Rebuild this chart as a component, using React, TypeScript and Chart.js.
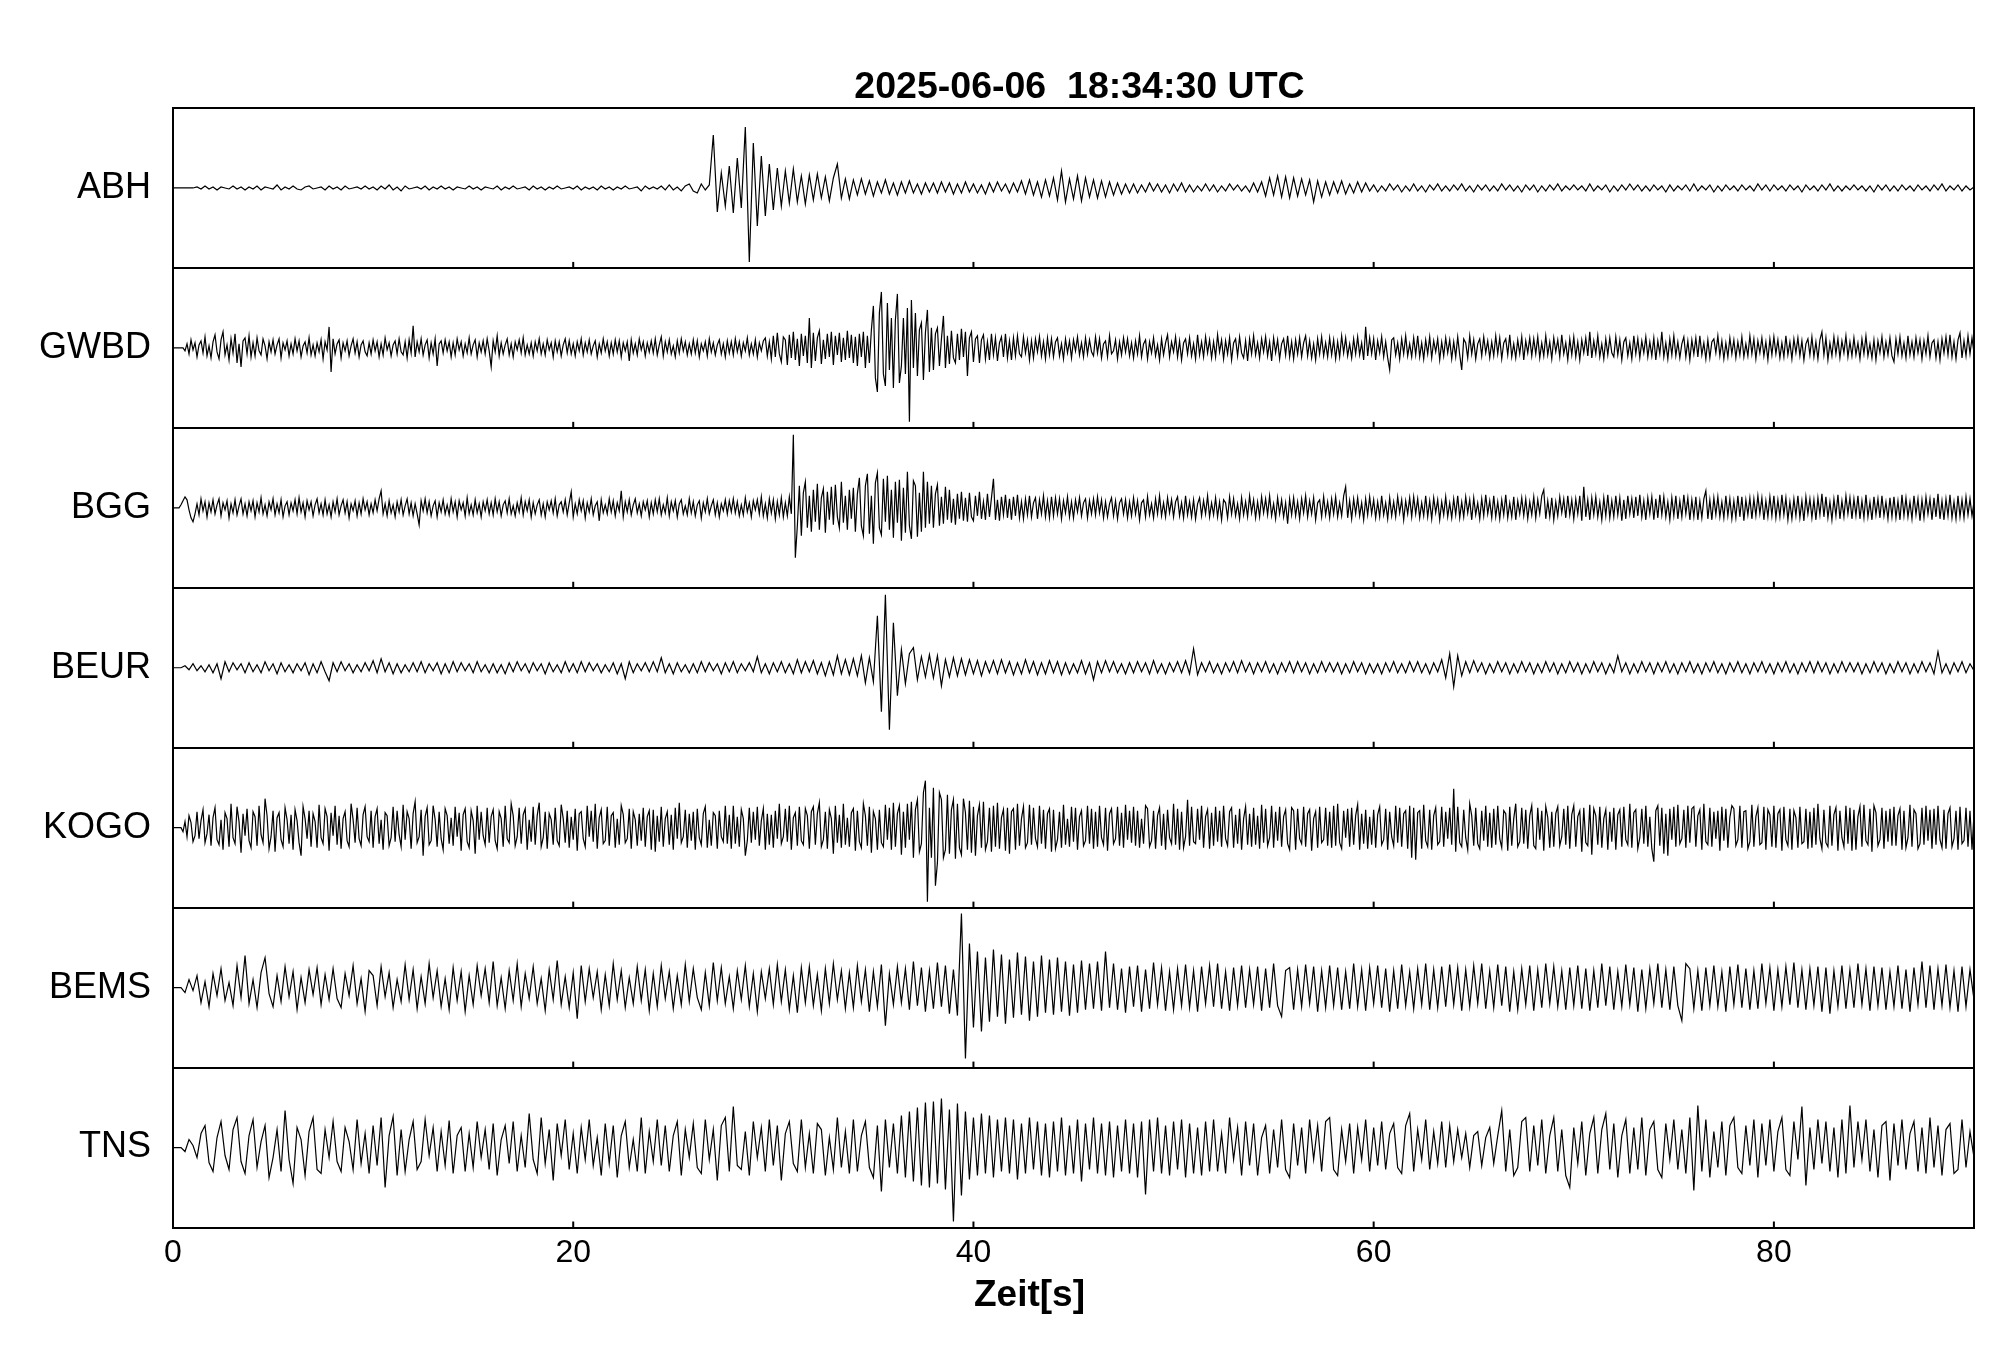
import React, { useEffect, useRef } from "react";
import { Chart, registerables } from "chart.js";

Chart.register(...registerables);

const TITLE = "2025-06-06  18:34:30 UTC";
const X_LABEL = "Zeit[s]";
const STATIONS = ["ABH", "GWBD", "BGG", "BEUR", "KOGO", "BEMS", "TNS"];
const X_TICKS = [0, 20, 40, 60, 80];
const X_MIN = 0;
const X_MAX = 90;
// seconds between samples of each trace (same order as STATIONS)
const SAMPLE_INTERVALS = [0.2, 0.1, 0.1, 0.2, 0.1, 0.2, 0.2];
const PANEL_UNITS = 160; // amplitude units spanning one panel

const ABH = [
  0,0,0,0,0,0,1,-1,2,-1,
  1,-2,1,0,-1,2,-1,1,-2,1,
  -1,2,-2,1,0,-1,3,-2,1,-1,
  2,-1,-2,1,2,-1,0,1,-2,2,
  -1,1,-2,2,-1,0,1,-1,2,-1,
  1,-2,2,-1,3,-2,1,-3,2,-1,
  0,1,-1,2,-2,1,-1,2,-1,1,
  -2,1,0,-1,2,-1,1,-2,1,0,
  -1,2,-2,1,-1,2,-1,0,1,-2,
  2,-1,1,-2,1,-1,2,-1,0,1,
  -1,2,-2,1,-1,1,-2,2,-1,1,
  -2,1,-1,2,-1,0,1,-3,2,-1,
  1,-1,2,-2,3,-2,1,-3,2,4,
  -3,-5,4,-2,3,53,-24,15,-18,22,
  -25,30,-20,61,-74,45,-38,32,-28,24,
  -22,20,-18,17,-15,19,-14,12,-16,13,
  -12,14,-10,11,-13,10,24,-10,9,-11,
  8,-7,9,-6,7,-8,6,-5,8,-6,
  5,-7,6,-5,7,-5,4,-6,5,-4,
  5,-5,6,-4,5,-6,4,-5,6,-4,
  4,-5,3,-6,5,-4,6,-3,4,-5,
  5,-4,7,-6,8,-7,6,-9,8,-8,
  10,-12,17,-14,9,-11,12,-13,10,-9,
  8,-10,7,-9,6,-7,5,-6,4,-5,
  4,-5,3,-4,5,-3,4,-4,3,-5,
  4,-3,5,-4,3,-4,2,-3,4,-3,
  3,-4,2,-3,4,-2,3,-3,2,-4,
  5,-4,6,-8,10,-7,12,-9,11,-10,
  10,-8,9,-7,8,-14,7,-9,6,-7,
  6,-5,7,-6,4,-5,6,-4,5,-3,
  3,-4,2,-3,4,-2,3,-4,2,-3,
  4,-3,2,-4,3,-2,4,-3,2,-3,
  3,-2,4,-3,2,-4,3,-2,3,-3,
  2,-3,4,-2,3,-3,2,-4,3,-2,
  3,-4,2,-3,3,-2,4,-3,2,-2,
  3,-2,2,-3,4,-3,2,-2,3,-4,
  2,-3,3,-2,4,-2,3,-3,2,-3,
  3,-2,2,-4,3,-3,2,-2,3,-3,
  4,-3,2,-2,3,-4,2,-3,3,-2,
  2,-3,3,-2,2,-3,4,-2,3,-3,
  3,-2,2,-3,3,-2,2,-4,3,-2,
  2,-3,3,-2,4,-3,2,-3,2,-2,
  3,-2,2,-3,2,-4,3,-2,3,-3,
  2,-3,3,-2,2,-3,3,-2,2,-3,
  3,-2,4,-3,2,-2,3,-3,2,-2,
  1,
];

const GWBD = [
  0,0,0,0,0,0,-3,4,-6,8,-2,5,-9,3,7,-5,11,-8,2,-10,
  6,13,-4,-11,8,16,-7,3,-12,9,-5,14,-15,4,-19,7,10,-6,12,-9,
  5,-8,10,-3,-7,9,2,-11,6,-4,8,-6,3,9,-10,5,-2,7,-8,4,
  -6,9,-3,7,-9,2,6,-5,10,-7,3,-8,5,-4,8,-11,6,-2,21,-24,
  9,-6,4,8,-10,5,-3,7,-8,2,9,-5,6,-9,3,7,-4,-8,5,-6,
  8,-3,6,-9,4,-7,10,-2,5,-8,3,7,-6,9,-4,-7,6,-10,8,-5,
  22,-9,6,-4,9,-7,3,8,-10,5,-6,9,-18,4,7,-5,8,-3,6,-9,
  5,-7,9,-2,6,-8,4,-5,10,-6,3,8,-9,5,-4,7,-6,9,-3,-19,
  7,-4,12,-8,5,-6,3,9,-7,4,-9,6,-2,8,-5,10,-7,3,-6,5,
  -8,6,-3,9,-6,4,-7,8,-2,5,-9,7,-4,6,-8,3,9,-5,7,-6,
  4,-8,6,-3,9,-7,5,-4,8,-6,2,7,-9,4,-5,9,-3,6,-8,5,
  -6,8,-4,7,-9,5,-3,6,-13,8,-5,4,-7,9,-2,6,-8,5,-4,7,
  -5,9,-7,3,11,-8,6,-4,8,-6,2,-9,7,-5,9,-3,6,-7,4,-6,
  8,-5,7,-9,4,-3,6,-8,9,-4,5,-7,3,8,-6,4,-9,7,-5,6,
  -7,9,-4,6,-8,5,-3,10,-7,4,-6,8,-9,5,-3,7,10,-8,6,-11,
  12,-9,15,-6,-14,11,8,-17,13,-10,16,-12,9,-18,14,-8,12,-15,30,-20,
  15,-13,10,17,-16,8,-11,14,-9,16,-17,12,-7,15,-14,10,-12,17,-10,13,
  -15,11,-18,14,-9,16,-20,12,-15,18,42,-30,-44,35,56,-26,-38,45,-22,30,
  -40,28,54,-35,-18,30,-26,40,-74,48,-20,35,-28,18,25,-32,15,38,-24,20,
  -22,14,20,-18,9,32,-20,12,-16,17,-10,-15,14,-12,19,-9,16,-28,10,16,
  -14,9,12,-15,8,13,-11,6,-12,14,-7,10,-13,5,11,-9,14,-10,7,-12,
  10,-8,12,-6,-9,11,-5,8,-12,7,-10,9,-4,11,-8,6,-11,10,-7,9,
  -9,6,10,-8,4,-11,9,-5,7,-10,8,-3,11,-7,5,-9,10,-6,8,-4,
  -8,11,-5,9,-10,4,7,-9,12,-6,-3,8,-11,6,-7,10,-4,9,-8,5,
  -10,7,-6,12,-9,4,8,-11,6,-5,10,-8,3,-12,9,-7,5,13,-9,6,
  -4,11,-9,7,-12,5,9,-6,10,-8,4,-11,13,-7,6,-9,11,-5,8,-10,
  6,-9,13,-4,8,-11,7,-6,10,-12,5,9,-8,11,-5,-10,7,-13,9,-6,
  12,-7,5,-10,9,-4,11,-8,6,-13,10,-5,8,-11,4,9,-7,12,-9,6,
  -11,8,-6,10,-9,5,12,-8,7,-10,4,-12,9,-6,11,-8,5,-9,10,-7,
  8,-11,6,-9,12,-5,10,-8,4,-10,9,-6,11,-7,5,-12,21,-8,10,-6,
  9,-12,7,-5,11,-9,6,-10,-22,8,10,-7,5,-11,9,-6,12,-8,4,-9,
  10,-7,12,-9,5,-11,8,-6,11,-10,7,-4,9,-12,6,-8,10,-5,8,-11,
  6,-9,11,-7,-22,9,5,-10,12,-6,8,-11,4,9,-8,11,-5,7,-10,6,
  -8,12,-6,10,-11,5,9,-7,13,-9,4,-10,8,-6,11,-12,7,-5,10,-8,
  9,-6,11,-10,5,-8,12,-7,6,-11,10,-4,8,-9,13,-6,5,-12,9,-7,
  11,-9,6,-12,8,-5,10,-8,16,-10,7,-6,12,-9,4,-11,9,-7,10,-5,
  -9,11,-7,8,-12,6,10,-8,5,-11,12,-6,9,-10,7,-5,11,-9,6,-8,
  10,-12,7,-6,16,-9,5,-11,9,-7,12,-8,6,-10,4,11,-9,7,-12,8,
  -6,10,-9,12,-7,5,-11,8,-10,6,9,-5,12,-8,7,-11,5,-9,10,-6,
  8,-10,6,-7,11,-9,4,-8,12,-6,9,-11,7,-5,10,-8,6,-12,9,-7,
  11,-6,8,-10,5,-9,12,-7,6,-11,9,-5,10,-8,7,-12,4,9,-7,11,
  -9,6,-11,8,16,-7,10,-12,5,-8,11,-6,9,-10,7,-5,12,-9,6,-8,
  10,-7,5,-11,9,-6,12,-8,4,-10,8,-12,7,-5,11,-9,6,-7,10,-8,
  -14,9,-6,11,-8,5,-10,12,-7,6,-9,10,-5,8,-11,7,-6,12,-9,5,
  8,-10,6,-12,9,-5,11,-7,13,-9,6,-11,8,15,-10,7,-8,12,-6,10,
  -5,
];

const BGG = [
  0,0,0,0,3,7,11,8,-2,-10,-14,-6,4,-7,9,-3,6,-9,5,-4,
  8,-6,3,9,-8,5,-2,7,-10,4,-5,8,-7,2,9,-6,4,-8,6,-3,
  7,-9,5,-4,10,-6,3,-8,6,-2,9,-7,4,-5,8,-9,2,6,-7,5,
  -3,8,-6,10,-4,5,-9,7,-2,6,-8,3,9,-5,4,-7,8,-6,3,-9,
  6,-4,9,-7,2,8,-5,6,-10,4,-3,7,-8,5,-6,9,-2,6,-7,4,
  -5,8,-3,9,17,-6,4,-8,7,-5,3,-9,6,-4,8,-7,2,9,-6,5,
  -8,4,-6,-17,7,-3,9,-5,6,-8,2,7,-9,5,-4,8,-6,3,-7,9,
  -4,6,-9,7,-2,5,-8,10,-6,3,-7,8,-5,4,-9,6,-3,8,-6,5,
  -7,9,-4,6,-8,3,7,-5,9,-6,2,-8,5,-4,10,-7,6,-3,8,-9,
  5,-6,3,8,-7,4,-9,6,-2,7,-5,9,-8,3,6,-4,8,-7,5,16,
  -9,4,-6,8,-3,7,-10,5,-4,9,-7,2,6,-13,8,-5,3,-6,9,-4,
  7,-8,5,-3,17,-9,6,-4,8,-7,3,9,-5,4,-8,6,-2,7,-9,5,
  -6,8,-4,9,-7,3,-5,10,-8,6,-3,7,-9,4,8,-6,2,-7,9,-5,
  6,-8,3,7,-10,5,-4,9,-6,2,8,-7,5,-9,4,-3,8,-6,7,-4,
  9,-5,6,-8,3,-7,10,-4,5,-9,7,-2,8,-6,11,-8,4,-10,9,-5,
  8,-11,6,-7,10,-9,5,-8,11,-6,73,-50,-18,22,-28,15,26,-20,12,-24,
  18,-14,24,-22,10,19,-25,16,-12,21,-17,23,-9,-20,26,-15,12,-22,18,-11,
  20,-24,14,30,-18,-28,22,34,-26,12,-36,25,35,-20,-27,29,-14,32,-22,18,
  -30,26,-15,28,-33,20,-25,36,-18,-31,27,22,-29,15,-24,36,-20,26,-16,22,
  -20,14,23,-18,11,-16,21,-12,18,-15,9,-17,14,-11,16,-13,10,-14,15,-9,
  -13,12,-8,16,-11,6,-12,14,-9,10,29,-12,8,-13,11,-7,13,-10,9,-12,
  11,-8,13,-10,6,-11,9,-7,12,-9,5,10,-11,8,-6,12,-9,7,-10,11,
  -8,10,-6,9,-11,7,-5,11,-9,6,-10,8,-4,10,-8,5,9,-10,7,-6,
  9,-7,11,-5,8,-10,6,-9,4,10,-8,7,-11,5,9,-6,8,-10,6,-8,
  10,-6,7,-12,5,8,-9,11,-7,4,-10,9,-6,12,-8,5,-9,10,-5,8,
  -9,6,11,-8,5,-10,12,-7,6,-9,8,-11,4,10,-8,7,-6,12,-9,5,
  -7,10,-9,6,-12,8,5,-10,11,-6,9,-8,4,-11,10,-7,6,-9,12,-5,
  8,-10,6,-9,11,-5,9,-7,12,-8,4,-11,10,-6,8,-9,5,-16,9,-7,
  10,-8,6,-11,9,-5,12,-9,7,-6,10,-12,5,8,-9,11,-7,6,-10,9,
  -6,11,-9,5,-8,12,21,-10,7,-11,9,-6,10,-8,5,-12,9,-7,11,-6,
  8,-10,6,-9,12,-7,5,-11,10,-8,6,-9,11,-5,8,-12,7,-6,10,-9,
  11,-6,9,-10,5,-8,12,-9,7,-11,10,-5,8,-12,6,-7,11,-9,5,-10,
  9,-7,12,-10,6,-9,11,-5,8,-12,10,-7,5,-11,9,-8,13,-6,7,-10,
  12,-9,6,-11,8,-7,13,-10,5,-9,11,-12,7,-6,10,-8,9,-11,6,-7,
  11,-10,8,-6,12,18,-11,7,-9,10,-12,6,-8,11,-5,9,-10,12,-7,8,
  -11,9,-6,12,-13,21,-9,8,-12,10,-7,11,-9,6,-12,10,-8,13,-10,7,
  -9,12,-7,10,-13,8,-11,12,-6,9,-10,11,-8,13,-9,7,-12,10,-6,11,
  -12,9,-10,13,-7,11,-9,6,-12,10,-8,12,-11,7,-9,13,-6,10,-12,8,
  -9,11,-12,7,-10,9,17,-11,8,-12,10,-7,11,-9,6,-10,12,-8,9,-11,
  7,-10,12,-9,11,-13,8,-7,10,-11,9,-8,12,-6,10,-12,7,-9,11,-8,
  12,-10,8,-9,13,-7,10,-12,6,-11,9,-8,12,-10,7,-13,11,-6,9,-10,
  8,-12,10,-7,14,-9,11,-10,6,-12,9,-8,13,-11,7,-9,12,-6,10,-11,
  9,-8,12,-11,7,-10,13,-9,6,-12,11,-7,9,-10,12,-8,6,-11,10,-9,
  11,-10,7,-12,13,-8,10,-9,6,-11,12,-7,9,-13,8,-10,11,-6,9,-12,
  10,-9,14,-11,7,-12,9,-8,13,-10,6,-11,12,-9,8,-10,11,-7,9,-8,
  6,
];

const BEUR = [
  0,0,0,2,-2,4,-3,2,-4,3,
  -5,4,-11,6,-4,5,-2,4,-5,5,
  -4,3,-5,6,-3,4,-6,5,-4,3,
  -5,4,-3,5,-7,4,-5,6,-4,-13,
  5,-4,6,-3,4,-5,3,-4,5,-3,
  7,-5,9,-4,5,-6,4,-5,3,-4,
  5,-4,6,-5,4,-3,5,-6,4,-5,
  6,-4,5,-3,4,-5,6,-4,3,-5,
  4,-5,3,-6,5,-4,6,-3,4,-5,
  5,-3,4,-6,5,-4,3,-5,6,-4,
  4,-5,6,-4,5,-3,4,-5,3,-4,
  5,-6,4,-11,6,-5,4,-3,5,-4,
  6,-4,10,-5,4,-6,5,-4,3,-5,
  4,-5,6,-4,5,-3,4,-6,5,-4,
  6,-5,4,-3,5,-4,11,-5,4,-6,
  5,-4,6,-5,4,-6,8,-5,6,-4,
  7,-6,5,-8,6,-7,12,-6,8,-7,
  9,-8,12,-15,10,-14,52,-44,73,-62,
  45,-28,18,-16,14,20,-12,11,-9,13,
  -10,12,-18,8,-9,10,-8,9,-7,8,
  -6,7,-8,6,-5,7,-6,8,-5,6,
  -7,5,-6,8,-5,6,-7,5,-6,7,
  -5,6,-7,5,-6,4,-5,7,-6,5,
  -12,6,-5,7,-4,6,-5,4,-6,5,
  -5,6,-4,5,-6,7,-5,4,-6,5,
  -4,6,-5,7,-6,19,-7,5,-4,6,
  -5,4,-6,5,-4,6,-5,7,-4,5,
  -6,5,-4,6,-5,4,-6,5,-4,6,
  -5,6,-4,5,-6,4,-5,6,-4,5,
  -4,5,-6,4,-5,6,-4,5,-6,4,
  -5,4,-6,5,-4,6,-5,4,-5,6,
  -4,6,-5,4,-6,5,-4,8,-10,14,
  -19,12,-8,6,-5,7,-4,5,-6,4,
  -5,6,-4,5,-6,4,-5,6,-4,5,
  -6,4,-5,6,-4,5,-6,4,-5,6,
  -4,5,-6,4,-5,6,-4,5,-6,4,
  -5,12,-4,5,-6,4,-5,6,-4,5,
  -6,5,-4,6,-5,4,-6,5,-4,6,
  -5,4,-6,5,-4,6,-5,4,-6,5,
  -4,6,-5,4,-6,5,-4,6,-5,4,
  -6,5,-4,6,-5,4,-6,5,-4,6,
  -5,6,-4,5,-6,4,-5,6,-4,5,
  -4,5,-6,4,-5,6,-4,5,-6,4,
  -5,6,-4,5,-6,4,-5,6,-4,5,
  -6,16,-5,4,-6,5,-4,6,-5,4,
  -3,
];

const KOGO = [
  0,0,0,0,0,-4,6,-9,12,5,-14,-8,16,-11,7,18,-15,-6,13,-18,
  10,20,-12,-17,8,-22,15,9,-19,24,-10,-16,21,6,-25,14,-8,19,-13,-20,
  16,11,-18,22,-7,-15,29,12,-21,-9,17,-24,10,15,-12,-19,20,8,-16,13,
  -22,18,7,-15,-28,21,9,-11,17,-19,14,6,-20,23,-10,-16,19,11,-23,15,
  -8,22,-17,12,-21,9,16,-13,-19,24,8,-15,20,-11,-18,13,21,-9,-14,17,
  -20,11,19,-16,8,-22,15,12,-18,-10,21,-14,17,-7,-19,23,-12,16,9,-21,
  14,26,-15,-9,18,-28,11,20,-17,-13,22,8,-19,16,-11,-22,19,12,-16,10,
  -18,21,-9,15,-23,13,19,-14,-20,17,7,-26,22,-12,16,-8,-17,20,-15,11,
  18,-13,-21,16,9,-19,22,-11,-15,24,12,-18,-9,20,-16,13,19,-22,8,-14,
  21,-17,12,25,-19,-10,16,-21,14,8,-17,20,-13,-18,23,9,-15,17,-20,11,
  -12,19,-23,14,16,-11,-19,22,-9,17,-14,24,-21,10,18,-16,-13,21,-18,12,
  15,-20,9,-17,22,13,-15,-11,19,-21,16,8,-18,14,-13,20,-19,11,17,-22,
  18,-24,12,-14,21,-19,9,16,-17,13,-22,20,-11,25,-15,-9,18,-20,14,-13,
  16,-22,19,-10,-17,14,21,-20,8,-18,15,12,-21,17,-9,-14,22,-16,13,-21,
  22,-16,11,-19,18,9,-28,-13,20,-15,16,-12,21,-18,7,19,-22,14,-17,13,
  -20,17,-11,24,-16,-9,19,-14,22,-22,10,15,-18,21,-13,-17,19,12,-21,16,
  21,-17,14,25,-19,-12,16,-21,18,9,-26,22,-15,13,-20,24,-17,10,-19,15,
  19,-23,17,-14,-20,24,12,-18,21,-25,16,9,-22,18,-15,-19,23,-12,20,-22,
  25,-19,14,22,-27,16,-20,24,-12,26,-30,18,28,-24,-16,35,47,-74,20,-30,
  40,-58,-35,35,28,-30,-22,33,-26,18,28,-31,24,-20,-27,29,15,-22,27,-25,
  21,-28,12,23,-20,26,-22,-14,20,-24,22,-19,25,-21,10,18,-23,20,-26,16,
  19,-22,24,-18,9,21,-20,-15,23,-17,20,-11,-19,22,-16,18,-21,14,19,-24,
  18,-21,-12,16,-20,23,-17,9,-19,21,-14,20,-22,11,17,-18,-13,22,-16,19,
  -21,16,-19,22,-10,-17,20,-23,14,19,-16,-11,21,-18,15,-20,23,-12,17,-15,
  21,-18,17,-20,9,-16,22,19,-19,-13,17,-21,12,20,-18,14,-22,18,-10,-16,
  24,-17,19,-22,16,-20,-9,28,-18,21,-14,-16,19,-12,22,-20,11,18,-21,15,
  -18,21,-14,17,-19,22,-11,-18,16,20,-20,13,-16,19,-22,9,21,-17,14,-19,
  20,-17,12,-21,23,-15,19,-18,-10,22,-20,16,-13,21,-19,11,18,-16,-22,20,
  17,-22,19,-11,-16,21,-19,14,18,-23,9,16,-20,21,-15,-12,20,-18,16,-20,
  22,-18,24,-15,-21,17,-10,19,-19,20,-17,12,23,-22,14,-16,18,-21,11,-17,
  18,-20,13,21,-17,-12,19,-22,16,-9,-18,22,-15,20,-19,14,17,-21,22,-30,
  20,-32,15,17,-21,23,-13,-19,18,-22,12,20,-17,-14,21,-19,16,-11,20,-17,
  39,-24,21,-15,-19,18,-10,-22,24,12,-18,20,-16,-21,17,-13,22,-19,15,-20,
  19,-17,22,-11,-20,17,14,-23,21,-18,9,24,-19,-14,20,-16,18,-21,12,22,
  -18,-21,20,-12,17,-23,21,10,-20,16,-19,14,21,-18,-9,19,-17,22,-21,13,
  22,-19,11,17,-24,20,-15,-18,23,-27,19,12,-17,21,-20,9,18,-22,16,-14,
  20,-22,13,18,-19,21,-12,-17,24,-20,15,18,-21,-10,19,-16,22,-19,11,-21,
  -34,17,22,-18,20,-26,14,-28,19,-12,21,-19,23,-16,-11,18,-20,22,-15,19,
  21,-19,12,18,-22,24,-14,-17,20,-19,16,-11,17,-23,21,-13,19,-20,10,22,
  19,-18,-12,22,-20,16,17,-21,-14,23,-19,11,20,-17,-15,21,-22,18,13,-19,
  22,-20,14,18,-23,21,-12,-18,19,-22,17,10,-20,21,-16,-14,19,-21,16,-20,
  20,-17,24,-11,-21,18,-15,-19,22,-18,13,20,-23,17,-10,-19,22,-16,20,-23,
  18,-22,11,21,-19,23,-13,-17,19,-24,22,15,-18,-12,20,-21,17,-14,19,-18,
  21,-18,12,19,-22,17,-20,-10,23,-19,18,14,-21,-16,20,-17,22,-13,18,-21,
  19,-17,22,-12,-20,18,-21,14,20,-19,-11,17,-22,21,-16,-13,20,-19,17,-22,
  14,
];

const BEMS = [
  0,0,0,-5,8,-3,12,-15,6,-19,
  14,-8,19,-13,5,-18,22,-10,32,-16,
  8,-20,15,30,-6,-19,12,-14,21,-9,
  16,-22,10,-15,18,-7,20,-17,13,-12,
  19,-11,-20,14,-8,22,-16,9,-24,17,
  12,-18,21,-9,15,-20,8,-14,23,-12,
  18,-21,11,-16,24,-10,17,-19,9,-22,
  20,-13,16,-24,12,-17,22,-8,19,-15,
  26,-18,10,-21,17,-13,24,-19,14,-11,
  21,-16,9,-23,18,-12,27,-17,11,-20,
  15,-31,22,-14,19,-10,16,-22,13,-18,
  24,-12,17,-20,10,-16,21,-13,18,-23,
  14,-19,22,-11,16,-21,12,-17,23,-14,
  19,-10,-22,15,-18,25,-13,20,-16,11,
  -21,17,-12,22,-19,14,-24,16,-11,19,
  -17,23,-14,18,-22,12,-25,20,-15,21,
  -18,13,-23,19,-16,24,-12,17,-21,15,
  -20,22,-14,18,-24,16,-19,23,-38,14,
  -17,21,-15,19,-22,26,-18,20,-24,17,
  -21,25,-19,22,-26,18,-28,74,-71,44,
  -40,36,-44,30,-34,38,-29,33,-36,28,
  -30,35,-27,31,-33,26,-29,32,-25,28,
  -27,30,-24,26,-28,23,-25,27,-22,24,
  -21,26,-23,36,-20,24,-22,19,-25,21,
  -19,22,-24,18,-21,25,-17,20,-23,16,
  -22,19,-18,23,-20,17,-24,21,-16,22,
  -19,24,-21,16,-23,20,-18,22,-20,18,
  -17,21,-23,19,-20,24,-18,-29,17,20,
  -22,18,-19,23,-16,21,-24,17,-20,22,
  -18,20,-22,16,-21,24,-19,18,-23,20,
  -16,22,-20,19,-24,17,-21,23,-18,16,
  -21,19,-17,24,-22,18,-20,21,-19,23,
  -17,20,-23,18,-19,22,-16,24,-21,17,
  -20,23,-18,21,-24,16,-22,19,-17,22,
  -23,18,-20,24,-16,21,-19,17,-22,20,
  -18,22,-21,19,-23,17,-20,24,-18,21,
  -22,16,-19,23,-17,20,-24,18,-21,19,
  -16,24,-20,18,-22,21,-18,-33,24,19,
  -21,17,-23,20,-18,22,-19,16,-24,21,
  -17,23,-20,19,-22,17,-21,24,-16,20,
  -23,18,-19,21,-17,25,-20,18,-22,19,
  -18,21,-24,20,-26,17,-19,22,-21,18,
  -20,24,-17,19,-23,21,-18,20,-22,16,
  -19,22,-21,18,-24,20,-17,26,-20,22,
  -22,19,-18,23,-20,17,-24,21,-19,18,
  -12,
];

const TNS = [
  0,0,0,-4,8,2,-10,14,22,-15,
  -24,10,26,-8,-22,18,30,-14,-26,12,
  28,-20,6,22,-30,-10,18,-24,37,-12,
  -36,20,8,-28,16,30,-22,-26,18,-10,
  26,-14,-24,20,6,-22,28,-16,14,-26,
  22,-18,30,-40,12,31,-28,18,-24,8,
  26,-22,-14,28,-8,20,-24,16,-18,27,
  -26,12,20,-24,14,-20,26,-10,18,-22,
  24,-28,8,22,-16,26,-24,12,-20,34,
  -12,-26,30,-16,18,-33,24,-8,28,-22,
  14,-26,20,-12,28,-18,10,-28,24,-16,
  22,-30,12,26,-20,8,-24,30,-26,16,
  -14,28,-18,22,-24,12,26,-28,18,-10,
  24,-20,-26,28,-12,18,-33,22,30,-24,
  41,-18,-22,16,-28,26,-10,20,-24,28,
  -18,22,-33,14,26,-16,-24,28,-20,14,
  -26,24,18,-28,10,-22,30,-20,16,-26,
  28,-24,12,26,-20,-30,22,-44,28,-20,
  24,-26,32,-30,36,-34,40,-38,45,-40,
  46,-36,49,-42,38,-74,44,-48,36,-32,
  30,-28,34,-26,32,-30,28,-24,30,-26,
  28,-32,24,-26,30,-22,26,-28,24,-30,
  26,-24,30,-28,22,-26,28,-34,24,-22,
  30,-26,24,-28,26,-30,22,-24,28,-26,
  24,-30,26,-47,28,-24,30,-26,22,-28,
  26,-22,28,-30,24,-26,20,-28,26,-24,
  28,-24,14,-26,30,-12,20,-28,26,-18,
  24,-28,10,22,-26,18,-20,28,-22,-30,
  24,-18,20,-26,28,-12,22,-24,26,30,
  -22,-28,18,-14,24,-26,20,-12,28,-24,
  20,-18,26,-22,14,24,-20,-26,22,34,
  -24,18,-12,28,-22,16,-16,26,-20,22,
  -14,18,-10,14,-20,12,16,-18,10,20,
  -16,12,37,-24,18,-28,-20,26,30,-24,
  22,-18,28,-26,12,30,-24,18,-28,-40,
  20,-16,26,-28,14,30,-26,18,34,-22,
  24,-30,12,28,-26,20,-22,30,-28,18,
  26,-22,-30,24,-12,28,-22,18,-26,30,
  -43,42,-24,28,-30,16,-20,26,-28,22,
  30,-20,-26,22,-18,28,-30,24,-18,28,
  -24,16,30,-22,-28,26,-12,41,-38,20,
  -22,28,-16,26,-24,20,-30,28,-26,42,
  -20,26,-12,28,-24,18,-30,22,26,-33,
  24,-18,28,-22,14,26,-24,20,-26,30,
  -20,22,-28,18,24,-26,-22,28,-20,16,
  -10,
];

const TRACES = [ABH, GWBD, BGG, BEUR, KOGO, BEMS, TNS];

const FONT = "'Liberation Sans', Arial, Helvetica, sans-serif";

const innerTicks = {
  id: "innerTicks",
  afterDatasetsDraw(chart: any) {
    const { ctx, scales } = chart;
    const xs = scales.x;
    const ys = scales.y;
    ctx.save();
    ctx.strokeStyle = "#000";
    ctx.lineWidth = 2;
    for (let b = 0; b < STATIONS.length; b++) {
      const py = ys.getPixelForValue(b);
      for (const xv of X_TICKS) {
        if (xv === X_MIN) continue;
        const px = xs.getPixelForValue(xv);
        ctx.beginPath();
        ctx.moveTo(px, py);
        ctx.lineTo(px, py - 6);
        ctx.stroke();
      }
    }
    ctx.restore();
  },
};

const texts = {
  id: "texts",
  afterDraw(chart: any) {
    const { ctx, chartArea } = chart;
    const cx = (chartArea.left + chartArea.right) / 2;
    ctx.save();
    ctx.fillStyle = "#000";
    ctx.textAlign = "center";
    // title
    ctx.font = `bold 37.5px ${FONT}`;
    ctx.textBaseline = "alphabetic";
    ctx.fillText(TITLE, cx + 6, chartArea.top - 10);
    // x-axis label
    ctx.font = `bold 37px ${FONT}`;
    ctx.textBaseline = "middle";
    ctx.fillText(X_LABEL, cx - 44, chartArea.bottom + 68);
    ctx.restore();
  },
};

export default function App() {
  const ref = useRef<HTMLCanvasElement | null>(null);

  useEffect(() => {
    if (!ref.current) return;
    const n = STATIONS.length;
    const datasets = TRACES.map((vals, j) => ({
      label: STATIONS[j],
      data: vals.map((v, i) => ({ x: i * SAMPLE_INTERVALS[j], y: n - j - 0.5 + v / PANEL_UNITS })),
      borderColor: "#000",
      borderWidth: 1.2,
      pointRadius: 0,
      tension: 0,
      fill: false,
      yAxisID: "y",
    }));

    const chart = new Chart(ref.current, {
      type: "line",
      data: { datasets },
      plugins: [innerTicks, texts],
      options: {
        animation: false,
        responsive: false,
        devicePixelRatio: 1,
        parsing: false as any,
        normalized: true,
        layout: { padding: { top: 108, right: 31, bottom: 0, left: 0 } },
        plugins: {
          legend: { display: false },
          tooltip: { enabled: false },
          title: { display: false },
        },
        scales: {
          x: {
            type: "linear",
            min: X_MIN,
            max: X_MAX,
            afterBuildTicks: (s: any) => {
              s.ticks = X_TICKS.map((v) => ({ value: v }));
            },
            afterFit: (s: any) => {
              s.height = 133.5;
            },
            grid: { display: false, drawTicks: false },
            border: { display: true, color: "#000", width: 2 },
            ticks: {
              color: "#000",
              font: { family: FONT, size: 32 },
              padding: 6,
              maxRotation: 0,
              autoSkip: false,
            },
            title: { display: false },
          },
          y: {
            type: "linear",
            min: 0,
            max: n,
            afterBuildTicks: (s: any) => {
              s.ticks = STATIONS.map((_, j) => ({ value: j + 0.5 }));
            },
            afterFit: (s: any) => {
              s.width = 173;
            },
            grid: { display: false, drawTicks: false },
            border: { display: true, color: "#000", width: 2 },
            ticks: {
              color: "#000",
              font: { family: FONT, size: 36 },
              padding: 22,
              autoSkip: false,
              callback: (v: any) => STATIONS[Math.round(n - 0.5 - Number(v))],
            },
          },
          y2: {
            type: "linear",
            position: "right",
            min: 0,
            max: n,
            afterFit: (s: any) => {
              s.width = 0;
            },
            ticks: { display: false, stepSize: 1 },
            grid: { display: true, color: "#000", lineWidth: 2, drawTicks: false },
            border: { display: true, color: "#000", width: 2 },
          },
        },
      } as any,
    });
    return () => chart.destroy();
  }, []);

  return (
    <div style={{ position: "absolute", left: 0, top: 0, width: 2005, height: 1361, background: "#fff" }}>
      <canvas ref={ref} width={2005} height={1361} style={{ display: "block" }} />
    </div>
  );
}
